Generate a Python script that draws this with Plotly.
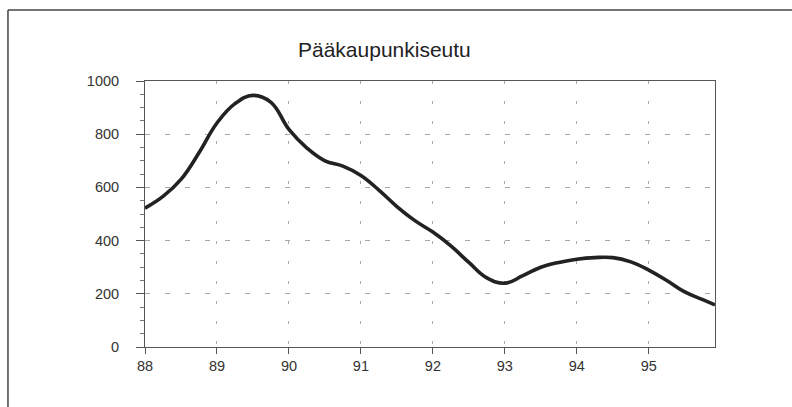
import plotly.graph_objects as go

# quarterly readings, Pääkaupunkiseutu
years = [88.0, 88.25, 88.5, 88.75, 89.0, 89.25, 89.5, 89.75,
         90.0, 90.25, 90.5, 90.75, 91.0, 91.25, 91.5, 91.75,
         92.0, 92.25, 92.5, 92.75, 93.0, 93.25, 93.5, 93.75,
         94.0, 94.25, 94.5, 94.75, 95.0, 95.25, 95.5, 95.75, 95.92]
values = [522, 566, 630, 730, 842, 915, 946, 920,
          818, 748, 700, 680, 645, 590, 528, 475,
          432, 380, 318, 260, 240, 268, 300, 318,
          330, 336, 336, 320, 289, 250, 207, 178, 158]
x_ticks = [88, 89, 90, 91, 92, 93, 94, 95]
y_ticks = [0, 200, 400, 600, 800, 1000]

fig = go.Figure()
fig.add_trace(go.Scatter(x=years, y=values,
                         mode="lines",
                         line=dict(color="#222222", width=3.6, shape="spline", smoothing=1.2),
                         showlegend=False))

axis_common = dict(showline=True, linecolor="#555555", linewidth=1, mirror=True,
                   gridcolor="#a8a8a8", gridwidth=1, zeroline=False,
                   tickfont=dict(size=14.5, color="#333333"),
                   ticks="outside", tickcolor="#555555")

fig.update_xaxes(range=[88, 95.92], tickvals=x_ticks, ticklen=6,
                 griddash="3px,17px", **axis_common)
fig.update_yaxes(range=[0, 1000], tickvals=y_ticks, ticklen=8,
                 griddash="5px,15px", ticklabelstandoff=14,
                 minor=dict(dtick=50, ticks="outside", ticklen=4, tickcolor="#777777", showgrid=False),
                 **axis_common)

# outer frame of the scanned page: only its top and left edges are in view
frame = dict(color="#444444", width=1.5)
fig.add_shape(type="line", xref="paper", yref="paper",
              x0=-0.2404, y0=1.267, x1=1.3, y1=1.267, line=frame)
fig.add_shape(type="line", xref="paper", yref="paper",
              x0=-0.2404, y0=1.267, x1=-0.2404, y1=-0.4, line=frame)

fig.update_layout(width=792, height=407,
                  margin=dict(l=145, r=77, t=81, b=60),
                  paper_bgcolor="white", plot_bgcolor="white",
                  font=dict(family="Liberation Sans, Arial, sans-serif", color="#222222"),
                  modebar=dict(bgcolor="rgba(0,0,0,0)", color="rgba(0,0,0,0)",
                               activecolor="rgba(0,0,0,0)"),
                  title=dict(text="Pääkaupunkiseutu", x=0.42, xanchor="center",
                             y=0.877, yanchor="middle", xref="paper",
                             font=dict(size=21, color="#222222")))

# drop the page's default body margin so the figure fills the window exactly
fig.write_html("out.html",
               config={"displaylogo": False},
               post_script="document.body.style.margin='0';document.body.style.overflow='hidden';")
